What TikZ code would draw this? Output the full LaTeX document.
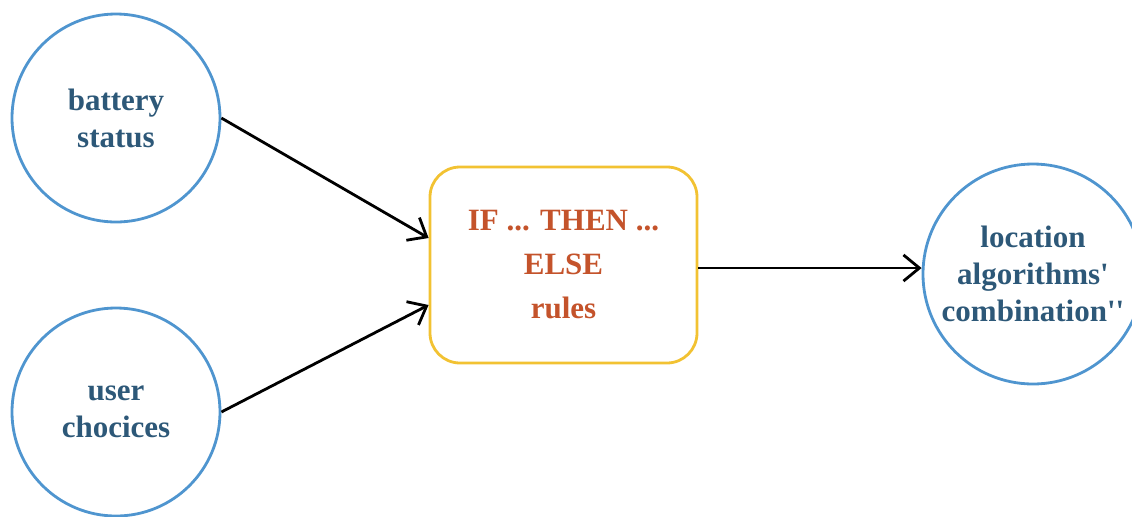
\documentclass[tikz,border=0pt]{standalone}
\usepackage{fontspec}
\setmainfont{Liberation Serif}
\usepackage{xcolor}
\usetikzlibrary{arrows.meta}
\definecolor{circblue}{HTML}{4F95CF}
\definecolor{txtblue}{HTML}{2D5878}
\definecolor{boxgold}{HTML}{F2C232}
\definecolor{txtrust}{HTML}{C4532B}
\newcommand{\sq}{\textquotesingle}
\tikzset{
  inp/.style={circle,draw=circblue,line width=1.4pt,minimum size=104pt,inner sep=0pt,
    align=center,text=txtblue,font=\fontsize{15.5}{18.5}\selectfont\bfseries},
  outp/.style={inp,minimum size=110pt},
  rulebox/.style={rectangle,rounded corners=15pt,draw=boxgold,line width=1.4pt,
    minimum width=133.5pt,minimum height=98pt,align=center,text=txtrust,
    font=\fontsize{15.5}{22}\selectfont\bfseries},
  lnk/.style={line width=1.4pt,-{Straight Barb[length=2.8mm,width=4.6mm,line width=1.4pt]}}
}

\begin{document}
\begin{tikzpicture}[x=0.5pt,y=-0.5pt]
\useasboundingbox (0,0) rectangle (1132,516);
\node[inp] (batt) at (116,118) {battery\\status};
\node[inp] (user) at (116,412) {user\\chocices};
\node[rulebox] (rules) at (563.5,265) {IF ... THEN ...\\ELSE\\rules};
\node[outp] (loc) at (1033,274) {location\\algorithms\sq\\combination\sq\sq};
\draw[lnk] (batt.east) -- ([yshift=13.5pt]rules.west);
\draw[lnk] (user.east) -- ([yshift=-20pt]rules.west);
\draw[lnk] (rules.east |- 0,268) -- (loc.west |- 0,268);
\end{tikzpicture}
\end{document}
